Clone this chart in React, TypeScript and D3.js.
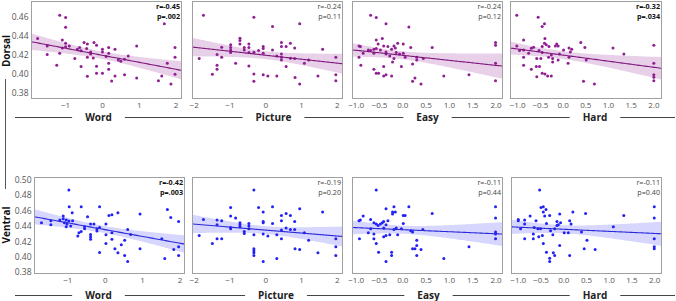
import React, { useEffect, useRef } from "react";
import * as d3 from "d3";

const categories = ["Word", "Picture", "Easy", "Hard"];
const regions = ["Dorsal", "Ventral"];

const dorsalWord: [number, number][] = [
  [-1.76, 0.4375], [-1.5, 0.4298], [-1.5, 0.4207], [-1.24, 0.4095], [-1.16, 0.4621], [-1.16, 0.4221],
  [-1.09, 0.4361], [-1.09, 0.4277], [-1.0, 0.4597], [-1.0, 0.4495], [-1.0, 0.4326], [-1.0, 0.4288],
  [-0.9, 0.4298], [-0.75, 0.4165], [-0.68, 0.4263], [-0.62, 0.4281], [-0.58, 0.4246], [-0.58, 0.4081],
  [-0.5, 0.4333], [-0.43, 0.427], [-0.41, 0.4319], [-0.41, 0.4179], [-0.41, 0.3979], [-0.32, 0.4235],
  [-0.32, 0.4214], [-0.25, 0.4172], [-0.23, 0.4333], [-0.16, 0.4305], [-0.16, 0.4084], [-0.16, 0.4011],
  [0.0, 0.4263], [0.0, 0.4235], [0.0, 0.4011], [0.1, 0.4186], [0.17, 0.4281], [0.17, 0.4221],
  [0.17, 0.4116], [0.17, 0.4053], [0.25, 0.393], [0.34, 0.4263], [0.34, 0.3982], [0.43, 0.4151],
  [0.5, 0.4137], [0.6, 0.4158], [0.6, 0.3996], [0.7, 0.4193], [0.93, 0.4298], [0.93, 0.3961],
  [1.52, 0.3933], [1.61, 0.3982], [1.68, 0.453], [1.76, 0.4116], [1.86, 0.3898], [1.97, 0.4281],
  [1.97, 0.4179], [1.97, 0.4],
];

const dorsalPicture: [number, number][] = [
  [-1.74, 0.462], [-1.86, 0.4165], [-1.49, 0.4], [-1.36, 0.4095], [-1.36, 0.4053], [-1.36, 0.4207],
  [-1.23, 0.4284], [-1.23, 0.4179], [-0.98, 0.4309], [-0.98, 0.4281], [-0.98, 0.4256], [-0.98, 0.4228],
  [-0.84, 0.4116], [-0.72, 0.4379], [-0.72, 0.4354], [-0.72, 0.4319], [-0.6, 0.4281], [-0.6, 0.4256],
  [-0.47, 0.4319], [-0.47, 0.4281], [-0.47, 0.4228], [-0.47, 0.4088], [-0.33, 0.46], [-0.33, 0.4232],
  [-0.33, 0.4004], [-0.33, 0.3926], [-0.2, 0.4249], [-0.07, 0.4291], [-0.07, 0.427], [-0.07, 0.4221],
  [-0.07, 0.3996], [0.06, 0.3982], [0.19, 0.4502], [0.19, 0.4256], [0.31, 0.4193], [0.31, 0.3982],
  [0.44, 0.4333], [0.44, 0.4291], [0.44, 0.4214], [0.44, 0.4179], [0.44, 0.4151], [0.57, 0.4291],
  [0.57, 0.4081], [0.69, 0.4326], [0.69, 0.4168], [0.81, 0.4277], [0.81, 0.4165], [0.82, 0.3965],
  [0.95, 0.453], [0.95, 0.3898], [1.08, 0.4116], [1.2, 0.4151], [1.46, 0.3982], [1.59, 0.4263],
  [1.96, 0.4179], [1.96, 0.3996], [1.96, 0.3933],
];

const dorsalEasy: [number, number][] = [
  [-0.69, 0.4621], [-0.57, 0.4597], [-0.36, 0.453], [0.13, 0.4498], [-0.94, 0.4298], [-0.91, 0.4291],
  [-0.94, 0.4179], [-0.9, 0.4095], [-0.85, 0.4221], [-0.74, 0.4256], [-0.69, 0.4249], [-0.62, 0.4263],
  [-0.62, 0.4221], [-0.62, 0.4053], [-0.57, 0.4361], [-0.57, 0.427], [-0.57, 0.4011], [-0.53, 0.4319],
  [-0.52, 0.4011], [-0.48, 0.4256], [-0.44, 0.4375], [-0.41, 0.4298], [-0.41, 0.4081], [-0.41, 0.3982],
  [-0.36, 0.4235], [-0.36, 0.4214], [-0.36, 0.3996], [-0.32, 0.4291], [-0.28, 0.4193], [-0.24, 0.4263],
  [-0.24, 0.3982], [-0.22, 0.413], [-0.19, 0.4298], [-0.19, 0.4165], [-0.16, 0.4277], [-0.14, 0.4228],
  [-0.11, 0.4326], [-0.07, 0.4214], [-0.03, 0.4081], [0.01, 0.4319], [0.01, 0.4221], [0.05, 0.4179],
  [0.17, 0.4281], [0.21, 0.4109], [0.21, 0.3926], [0.26, 0.3961], [0.3, 0.4179], [0.3, 0.4151],
  [0.39, 0.3898], [0.44, 0.4165], [0.63, 0.4281], [0.88, 0.3982], [1.42, 0.3996], [1.99, 0.4333],
  [1.99, 0.4305], [1.99, 0.4116], [1.99, 0.3933],
];

const dorsalHard: [number, number][] = [
  [-1.02, 0.4621], [-1.02, 0.4298], [-0.96, 0.4249], [-0.87, 0.4361], [-0.87, 0.4256], [-0.87, 0.4179],
  [-0.87, 0.4095], [-0.76, 0.4221], [-0.7, 0.4274], [-0.7, 0.4053], [-0.65, 0.4284], [-0.59, 0.4081],
  [-0.58, 0.4165], [-0.58, 0.3975], [-0.55, 0.46], [-0.53, 0.4249], [-0.52, 0.4081], [-0.49, 0.4165],
  [-0.46, 0.4502], [-0.46, 0.4228], [-0.46, 0.4011], [-0.46, 0.4291], [-0.41, 0.453], [-0.41, 0.4326],
  [-0.4, 0.4375], [-0.4, 0.4004], [-0.37, 0.4309], [-0.34, 0.3982], [-0.31, 0.4291], [-0.32, 0.4179],
  [-0.26, 0.4203], [-0.26, 0.3982], [-0.23, 0.4165], [-0.23, 0.413], [-0.17, 0.4298], [-0.14, 0.4319],
  [-0.11, 0.4298], [-0.11, 0.4151], [-0.08, 0.4214], [0.01, 0.4256], [0.11, 0.4116], [0.13, 0.4277],
  [0.13, 0.4179], [0.16, 0.4235], [0.19, 0.4263], [0.39, 0.4333], [0.45, 0.3926], [0.48, 0.4281],
  [0.51, 0.4151], [0.69, 0.3898], [1.1, 0.4277], [1.34, 0.4214], [2.0, 0.4305], [2.0, 0.4116],
  [2.0, 0.3996], [2.0, 0.3968], [2.0, 0.3933],
];

const ventralWord: [number, number][] = [
  [-1.7, 0.4445], [-1.45, 0.4471], [-1.45, 0.4419], [-1.21, 0.448], [-1.12, 0.4532], [-1.12, 0.4497],
  [-1.09, 0.4445], [-1.04, 0.4393], [-1.04, 0.448], [-1.02, 0.4428], [-0.97, 0.487], [-0.97, 0.4467],
  [-0.96, 0.4653], [-0.92, 0.4402], [-0.88, 0.4575], [-0.87, 0.4471], [-0.73, 0.4272], [-0.7, 0.4315],
  [-0.64, 0.4653], [-0.64, 0.4333], [-0.55, 0.4393], [-0.55, 0.4367], [-0.47, 0.4523], [-0.39, 0.4428],
  [-0.39, 0.4294], [-0.39, 0.4264], [-0.39, 0.4233], [-0.3, 0.4428], [-0.22, 0.4367], [-0.22, 0.4337],
  [-0.15, 0.4653], [-0.15, 0.4385], [-0.15, 0.406], [0.02, 0.4428], [0.02, 0.429], [0.02, 0.4177],
  [0.1, 0.4541], [0.18, 0.4549], [0.18, 0.4315], [0.18, 0.4233], [0.26, 0.4108], [0.34, 0.4575],
  [0.34, 0.4056], [0.43, 0.416], [0.52, 0.422], [0.52, 0.4021], [0.6, 0.4359], [0.6, 0.3943],
  [0.68, 0.4294], [0.93, 0.4558], [0.93, 0.4108], [1.51, 0.4238], [1.59, 0.3982], [1.66, 0.4619],
  [1.75, 0.4515], [1.83, 0.4099], [1.96, 0.4463], [1.96, 0.4134], [1.96, 0.4021],
];

const ventralPicture: [number, number][] = [
  [-1.86, 0.4281], [-1.74, 0.4489], [-1.49, 0.4177], [-1.36, 0.448], [-1.36, 0.4419], [-1.36, 0.4238],
  [-1.23, 0.4471], [-1.23, 0.4238], [-0.98, 0.4645], [-0.98, 0.4532], [-0.98, 0.4385], [-0.98, 0.4367],
  [-0.84, 0.4506], [-0.72, 0.4445], [-0.72, 0.4419], [-0.72, 0.4393], [-0.6, 0.4333], [-0.6, 0.4307],
  [-0.47, 0.4437], [-0.47, 0.4402], [-0.47, 0.4367], [-0.33, 0.487], [-0.33, 0.429], [-0.33, 0.4108],
  [-0.33, 0.4082], [-0.33, 0.4056], [-0.33, 0.4021], [-0.2, 0.4645], [-0.07, 0.4584], [-0.07, 0.4463],
  [-0.07, 0.4445], [-0.07, 0.4298], [-0.07, 0.3943], [0.06, 0.4272], [0.19, 0.4653], [0.19, 0.4437],
  [0.31, 0.429], [0.31, 0.3982], [0.44, 0.4541], [0.44, 0.4471], [0.44, 0.435], [0.44, 0.4238],
  [0.57, 0.4567], [0.57, 0.4376], [0.69, 0.4541], [0.69, 0.4359], [0.81, 0.4463], [0.81, 0.4359],
  [0.82, 0.4108], [0.95, 0.4627], [0.95, 0.4099], [1.08, 0.4315], [1.2, 0.422], [1.46, 0.4056],
  [1.59, 0.4584], [1.96, 0.4238], [1.96, 0.4134], [1.96, 0.4021],
];

const ventralEasy: [number, number][] = [
  [-0.94, 0.4471], [-0.93, 0.4238], [-0.91, 0.448], [-0.85, 0.4532], [-0.74, 0.4315], [-0.69, 0.4489],
  [-0.69, 0.4367], [-0.62, 0.4445], [-0.62, 0.4298], [-0.62, 0.4238], [-0.57, 0.487], [-0.57, 0.4428],
  [-0.57, 0.4177], [-0.53, 0.4411], [-0.52, 0.4064], [-0.48, 0.4428], [-0.44, 0.4445], [-0.41, 0.4463],
  [-0.41, 0.4376], [-0.41, 0.4264], [-0.36, 0.4627], [-0.36, 0.4419], [-0.36, 0.4281], [-0.36, 0.3943],
  [-0.32, 0.4471], [-0.28, 0.429], [-0.24, 0.4064], [-0.24, 0.4021], [-0.22, 0.4584], [-0.22, 0.4558],
  [-0.19, 0.4359], [-0.19, 0.4653], [-0.16, 0.4584], [-0.14, 0.4376], [-0.11, 0.429], [-0.03, 0.4367],
  [0.01, 0.4541], [0.01, 0.4437], [0.05, 0.4541], [0.13, 0.4653], [0.17, 0.4341], [0.21, 0.4324],
  [0.21, 0.4108], [0.26, 0.4108], [0.3, 0.422], [0.3, 0.4151], [0.3, 0.4021], [0.39, 0.4099],
  [0.43, 0.4359], [0.63, 0.4567], [0.88, 0.3982], [1.42, 0.4134], [1.99, 0.4653], [1.99, 0.4506],
  [1.99, 0.4324], [1.99, 0.4298], [1.99, 0.4238],
];

const ventralHard: [number, number][] = [
  [-1.0, 0.4489], [-1.0, 0.4471], [-0.95, 0.4367], [-0.86, 0.448], [-0.86, 0.4428], [-0.86, 0.4238],
  [-0.74, 0.4532], [-0.67, 0.4298], [-0.67, 0.4238], [-0.65, 0.4385], [-0.61, 0.4471], [-0.57, 0.4367],
  [-0.55, 0.4264], [-0.53, 0.487], [-0.51, 0.4367], [-0.5, 0.4645], [-0.47, 0.4281], [-0.45, 0.4653],
  [-0.45, 0.4584], [-0.45, 0.4177], [-0.42, 0.4532], [-0.39, 0.4619], [-0.38, 0.4064], [-0.38, 0.4437],
  [-0.31, 0.4541], [-0.31, 0.3986], [-0.31, 0.3943], [-0.29, 0.4341], [-0.24, 0.429], [-0.23, 0.4056],
  [-0.2, 0.4021], [-0.2, 0.4367], [-0.15, 0.4463], [-0.15, 0.4411], [-0.12, 0.4419], [-0.09, 0.4558],
  [-0.09, 0.4151], [-0.07, 0.4445], [0.01, 0.4315], [0.1, 0.4315], [0.13, 0.4471], [0.13, 0.4021],
  [0.16, 0.4428], [0.2, 0.4584], [0.39, 0.4324], [0.45, 0.4108], [0.48, 0.4567], [0.51, 0.422],
  [0.69, 0.4099], [1.09, 0.4393], [1.32, 0.4541], [1.99, 0.4653], [1.99, 0.4506], [1.99, 0.4238],
  [1.99, 0.4134], [1.99, 0.4108],
];

const dorsalStatsR = ["r=-0.45", "r=-0.24", "r=-0.24", "r=-0.32"];
const dorsalStatsP = ["p=.002", "p=0.11", "p=0.12", "p=.034"];
const dorsalSignificant = [true, false, false, true];
const ventralStatsR = ["r=-0.42", "r=-0.19", "r=-0.11", "r=-0.11"];
const ventralStatsP = ["p=.003", "p=0.20", "p=0.44", "p=0.40"];
const ventralSignificant = [true, false, false, false];

const xTicksWord = [-1, 0, 1, 2];
const xTicksPicture = [-2, -1, 0, 1, 2];
const xTicksScore = [-1, -0.5, 0, 0.5, 1, 1.5, 2];
const yTicksDorsal = [0.38, 0.4, 0.42, 0.44, 0.46];
const yTicksVentral = [0.38, 0.4, 0.42, 0.44, 0.46, 0.48, 0.5];

const W = 676;
const H = 301;
const FONT = "'Open Sans', 'Noto Sans', sans-serif";

export default function App() {
  const ref = useRef<SVGSVGElement>(null);

  useEffect(() => {
    const svg = d3.select(ref.current);
    svg.selectAll("*").remove();

    const rows = [
      {
        name: regions[0],
        top: 1, height: 98,
        yDomain: [0.374, 0.477],
        yTicks: yTicksDorsal,
        lefts: [31, 192, 352, 510],
        rights: [182, 343, 503, 662],
        xDomains: [[-1.94, 2.16], [-2.06, 2.16], [-1.09, 2.15], [-1.17, 2.18]],
        data: [dorsalWord, dorsalPicture, dorsalEasy, dorsalHard],
        statsR: dorsalStatsR, statsP: dorsalStatsP, sig: dorsalSignificant,
        dot: "#8f1f93", line: "#7d157d", band: "#8b1a8b",
        labelY: 117, labelXs: [98.5, 273.5, 427.5, 595],
        regionY: 51,
      },
      {
        name: regions[1],
        top: 177, height: 97,
        yDomain: [0.378, 0.504],
        yTicks: yTicksVentral,
        lefts: [34, 192, 352, 511],
        rights: [185, 343, 503, 662],
        xDomains: [[-1.9, 2.13], [-2.06, 2.16], [-1.09, 2.15], [-1.16, 2.16]],
        data: [ventralWord, ventralPicture, ventralEasy, ventralHard],
        statsR: ventralStatsR, statsP: ventralStatsP, sig: ventralSignificant,
        dot: "#2222f5", line: "#2a2ad8", band: "#3333ff",
        labelY: 295, labelXs: [98.5, 276, 428.5, 595],
        regionY: 225,
      },
    ];
    const xTickSets = [xTicksWord, xTicksPicture, xTicksScore, xTicksScore];
    const xFormats = [d3.format("d"), d3.format("d"), d3.format(".1f"), d3.format(".1f")];

    const defs = svg.append("defs");

    rows.forEach((row, ri) => {
      const y = d3.scaleLinear().domain(row.yDomain).range([row.top + row.height, row.top]);
      categories.forEach((cat, ci) => {
        const left = row.lefts[ci];
        const right = row.rights[ci];
        const x = d3.scaleLinear().domain(row.xDomains[ci]).range([left, right]);
        const pts = row.data[ci];
        const g = svg.append("g");
        const clipId = `clip-${ri}-${ci}`;
        defs.append("clipPath").attr("id", clipId)
          .append("rect").attr("x", left).attr("y", row.top)
          .attr("width", right - left).attr("height", row.height);

        // regression fit
        const n = pts.length;
        const mx = d3.mean(pts, (d) => d[0]) as number;
        const my = d3.mean(pts, (d) => d[1]) as number;
        let sxx = 0, sxy = 0;
        pts.forEach(([px, py]) => { sxx += (px - mx) ** 2; sxy += (px - mx) * (py - my); });
        const b = sxy / sxx;
        const a = my - b * mx;
        let sse = 0;
        pts.forEach(([px, py]) => { sse += (py - a - b * px) ** 2; });
        const s = Math.sqrt(sse / (n - 2));
        const t = 2.0;
        const [x0, x1] = row.xDomains[ci];
        const fit = d3.range(0, 101).map((i) => {
          const xv = x0 + ((x1 - x0) * i) / 100;
          const yh = a + b * xv;
          const se = s * Math.sqrt(1 / n + (xv - mx) ** 2 / sxx);
          return { xv, yh, lo: yh - t * se, hi: yh + t * se };
        });

        const plot = g.append("g").attr("clip-path", `url(#${clipId})`);
        plot.append("path")
          .attr("d", d3.area<any>().x((d) => x(d.xv)).y0((d) => y(d.lo)).y1((d) => y(d.hi))(fit) as string)
          .attr("fill", row.band).attr("fill-opacity", 0.2).attr("stroke", "none");
        plot.selectAll("circle").data(pts).join("circle")
          .attr("cx", (d) => x(d[0])).attr("cy", (d) => y(d[1]))
          .attr("r", 1.5).attr("fill", row.dot);
        plot.append("path")
          .attr("d", d3.line<any>().x((d) => x(d.xv)).y((d) => y(d.yh))(fit) as string)
          .attr("fill", "none").attr("stroke", row.line).attr("stroke-width", 1.1);

        // frame
        g.append("rect").attr("x", left + 0.5).attr("y", row.top + 0.5)
          .attr("width", right - left - 1).attr("height", row.height - 1)
          .attr("fill", "none").attr("stroke", "#a0a0a0").attr("stroke-width", 1);

        // x tick labels
        g.selectAll("text.xt").data(xTickSets[ci]).join("text")
          .attr("class", "xt")
          .attr("x", (d) => x(d)).attr("y", row.top + row.height + 8.5)
          .attr("text-anchor", "middle")
          .attr("font-family", FONT).attr("font-size", 8).attr("fill", "#555")
          .text((d) => xFormats[ci](d));

        // y tick labels
        if (ci === 0) {
          g.selectAll("text.yt").data(row.yTicks).join("text")
            .attr("class", "yt")
            .attr("x", left - 2.5).attr("y", (d) => y(d)).attr("dy", "0.35em")
            .attr("text-anchor", "end")
            .attr("font-family", FONT).attr("font-size", 8.5).attr("fill", "#555")
            .text((d) => d3.format(".2f")(d));
        }

        // stats
        const sig = row.sig[ci];
        [row.statsR[ci], row.statsP[ci]].forEach((txt, k) => {
          g.append("text")
            .attr("x", right - 2).attr("y", row.top + 8 + k * 9.5)
            .attr("text-anchor", "end")
            .attr("font-family", FONT).attr("font-size", 7.2)
            .attr("font-weight", sig ? 700 : 400)
            .attr("fill", sig ? "#111" : "#444")
            .text(txt);
        });
      });

      // category labels with rule line
      const labelG = svg.append("g");
      const gaps: [number, number][] = [];
      categories.forEach((cat, ci) => {
        const tx = labelG.append("text")
          .attr("x", row.labelXs[ci]).attr("y", row.labelY + 3.6)
          .attr("text-anchor", "middle")
          .attr("font-family", FONT).attr("font-size", 10).attr("font-weight", 700)
          .attr("fill", "#222")
          .text(cat);
        const w = (tx.node() as SVGTextElement).getComputedTextLength();
        gaps.push([row.labelXs[ci] - w / 2 - 13, row.labelXs[ci] + w / 2 + 13]);
      });
      let start = 15;
      const segs: [number, number][] = [];
      gaps.forEach(([g0, g1]) => { segs.push([start, g0]); start = g1; });
      segs.push([start, 675]);
      segs.forEach(([s0, s1]) => {
        labelG.append("line")
          .attr("x1", s0).attr("x2", s1)
          .attr("y1", row.labelY + 0.5).attr("y2", row.labelY + 0.5)
          .attr("stroke", "#444").attr("stroke-width", 1);
      });

      // region label
      svg.append("text")
        .attr("transform", `translate(9.5, ${row.regionY}) rotate(-90)`)
        .attr("text-anchor", "middle")
        .attr("font-family", FONT).attr("font-size", 10).attr("font-weight", 700)
        .attr("fill", "#111")
        .text(row.name);
    });

    // vertical connector between region labels
    svg.append("line")
      .attr("x1", 5.5).attr("x2", 5.5).attr("y1", 79).attr("y2", 189)
      .attr("stroke", "#555").attr("stroke-width", 1);
  }, []);

  return (
    <svg
      ref={ref}
      width={W}
      height={H}
      style={{ position: "absolute", left: 0, top: 0, background: "#fff" }}
    />
  );
}
